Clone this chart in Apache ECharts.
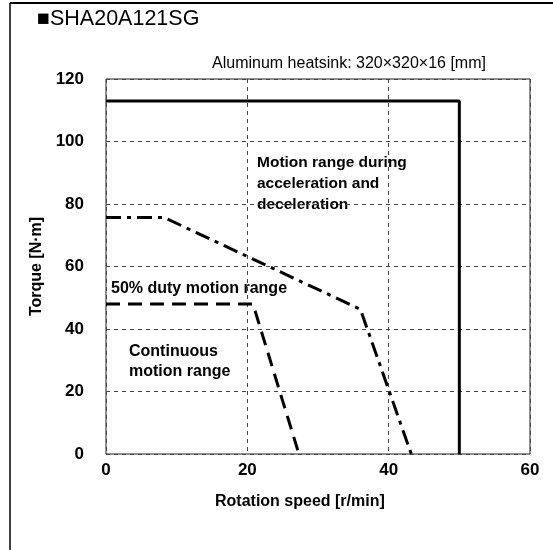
<!DOCTYPE html>
<html>
<head>
<meta charset="utf-8">
<script src="https://cdn.jsdelivr.net/npm/echarts@6/dist/echarts.min.js"></script>
<style>
html,body{margin:0;padding:0;background:#fff;}
#c{width:553px;height:550px;}
</style>
</head>
<body>
<div id="c"></div>
<script>
var FONT = '"Liberation Sans", Arial, sans-serif';
var xTicks = [0, 20, 40, 60];
var yTicks = [0, 20, 40, 60, 80, 100, 120];
var accelRange = [[0, 113], [50, 113], [50, 0]];
var dutyRange = [[0, 75.7], [8.2, 75.7], [36, 46.3], [43.2, 0]];
var contRange = [[0, 48], [20.8, 48], [27.3, 0]];

var chart = echarts.init(document.getElementById('c'), null, {renderer: 'canvas'});
var option = {
  animation: false,
  backgroundColor: '#fff',
  grid: {left: 106, right: 23, top: 79, bottom: 96, show: true, borderColor: '#222', borderWidth: 1, backgroundColor: 'transparent'},
  xAxis: {
    type: 'value', min: xTicks[0], max: xTicks[xTicks.length - 1], interval: 20,
    axisLine: {show: false}, axisTick: {show: false},
    axisLabel: {fontFamily: FONT, fontSize: 17, fontWeight: 'bold', color: '#000', margin: 8},
    splitLine: {show: true, lineStyle: {color: '#444', width: 1, type: [4, 4]}}
  },
  yAxis: {
    type: 'value', min: yTicks[0], max: yTicks[yTicks.length - 1], interval: 20,
    name: 'Torque [N·m]', nameLocation: 'middle', nameGap: 61, nameRotate: 90,
    nameTextStyle: {fontFamily: FONT, fontSize: 16, fontWeight: 'bold', color: '#000'},
    axisLine: {show: false}, axisTick: {show: false},
    axisLabel: {fontFamily: FONT, fontSize: 17, fontWeight: 'bold', color: '#000', margin: 22},
    splitLine: {show: true, lineStyle: {color: '#444', width: 1, type: [4, 4]}}
  },
  series: [
    {type: 'line', data: accelRange, symbol: 'none', lineStyle: {color: '#000', width: 3, type: 'solid'}, z: 5},
    {type: 'line', data: dutyRange, symbol: 'none', lineStyle: {color: '#000', width: 3, type: [15, 6, 4, 6]}, z: 5},
    {type: 'line', data: contRange, symbol: 'none', lineStyle: {color: '#000', width: 3, type: [14, 8]}, z: 5}
  ],
  graphic: [
    {type: 'line', shape: {x1: 10, y1: 3, x2: 553, y2: 3}, style: {stroke: '#000', lineWidth: 2}},
    {type: 'line', shape: {x1: 10, y1: 3, x2: 10, y2: 550}, style: {stroke: '#000', lineWidth: 1.5}},
    {type: 'text', left: 37, top: 8, style: {text: '■SHA20A121SG', font: '21.5px ' + FONT, fill: '#000'}},
    {type: 'text', left: 212, top: 56, style: {text: 'Aluminum heatsink: 320×320×16 [mm]', font: '16px ' + FONT, fill: '#000'}},
    {type: 'text', left: 257, top: 152, style: {text: 'Motion range during\nacceleration and\ndeceleration', font: 'bold 15.5px ' + FONT, fill: '#000', lineHeight: 21}},
    {type: 'text', left: 111, top: 281, style: {text: '50% duty motion range', font: 'bold 16px ' + FONT, fill: '#000'}},
    {type: 'text', left: 129, top: 342, style: {text: 'Continuous\nmotion range', font: 'bold 16px ' + FONT, fill: '#000', lineHeight: 20}},
    {type: 'text', left: 215, top: 494, style: {text: 'Rotation speed [r/min]', font: 'bold 16px ' + FONT, fill: '#000'}}
  ]
};
chart.setOption(option);
</script>
</body>
</html>
